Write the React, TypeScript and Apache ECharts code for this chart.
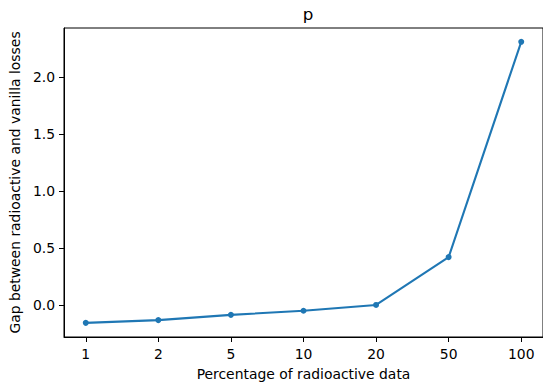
import React, { useEffect, useRef } from "react";
import * as echarts from "echarts";

const categories = ["1", "2", "5", "10", "20", "50", "100"];
const gapValues = [-0.152, -0.128, -0.082, -0.046, 0.005, 0.424, 2.31];
const yTicks = [0, 0.5, 1.0, 1.5, 2.0];
const xTicks = [0, 1, 2, 3, 4, 5, 6];

const FONT = "DejaVu Sans";

export default function App() {
  const ref = useRef<HTMLDivElement>(null);
  useEffect(() => {
    document.body.style.margin = "0";
    const chart = echarts.init(ref.current!, null, { renderer: "svg" });
    chart.setOption({
      animation: false,
      backgroundColor: "#ffffff",
      title: {
        text: "p",
        left: 303,
        textAlign: "center",
        top: 0,
        textStyle: { fontFamily: FONT, fontSize: 16.7, fontWeight: "normal", color: "#000" },
      },
      grid: {
        left: 61,
        top: 28,
        right: -2,
        bottom: 44,
        show: true,
        borderColor: "#000",
        borderWidth: 1,
        backgroundColor: "transparent",
      },
      xAxis: {
        type: "value",
        min: -0.3,
        max: 6.3,
        name: "Percentage of radioactive data",
        nameLocation: "middle",
        nameGap: 30,
        nameTextStyle: { fontFamily: FONT, fontSize: 13.9, color: "#000" },
        axisLine: { show: true, onZero: false, lineStyle: { color: "#000", width: 1 } },
        axisTick: { show: true, customValues: xTicks, length: 5, lineStyle: { color: "#000" } },
        axisLabel: {
          customValues: xTicks,
          margin: 10,
          fontFamily: FONT,
          fontSize: 13.9,
          color: "#000",
          formatter: (v: number) => categories[Math.round(v)] ?? "",
        },
        splitLine: { show: false },
      },
      yAxis: {
        type: "value",
        min: -0.276,
        max: 2.431,
        name: "Gap between radioactive and vanilla losses",
        nameLocation: "middle",
        nameGap: 40,
        nameTextStyle: { fontFamily: FONT, fontSize: 13.9, color: "#000" },
        axisLine: { show: true, onZero: false, lineStyle: { color: "#000", width: 1 } },
        axisTick: { show: true, customValues: yTicks, length: 5, lineStyle: { color: "#000" } },
        axisLabel: {
          customValues: yTicks,
          margin: 9,
          fontFamily: FONT,
          fontSize: 13.9,
          color: "#000",
          formatter: (v: number) => v.toFixed(1),
        },
        splitLine: { show: false },
      },
      series: [
        {
          type: "line",
          data: gapValues.map((v, i) => [i, v]),
          symbol: "circle",
          symbolSize: 6,
          showSymbol: true,
          color: "#1f77b4",
          lineStyle: { color: "#1f77b4", width: 2.1 },
          itemStyle: { color: "#1f77b4" },
        },
      ],
    });
    return () => chart.dispose();
  }, []);
  return (
    <div
      ref={ref}
      style={{ position: "fixed", left: 0, top: 0, width: 543, height: 386 }}
    />
  );
}
